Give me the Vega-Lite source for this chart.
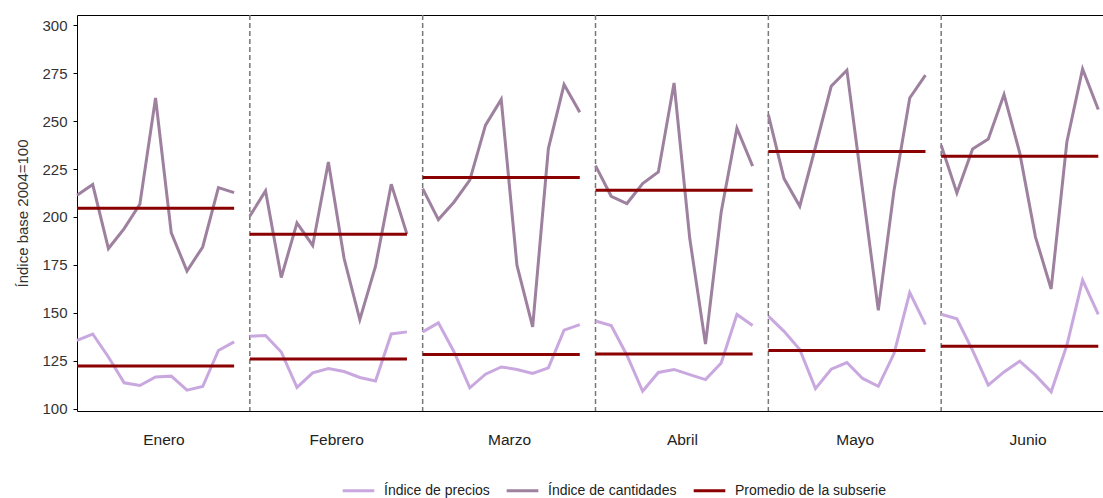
{
  "$schema": "https://vega.github.io/schema/vega-lite/v6.json",
  "width": 1026,
  "height": 396,
  "autosize": {"type": "none"},
  "padding": {"left": 77, "top": 15, "right": 0, "bottom": 87},
  "config": {
    "view": {"stroke": null},
    "font": "Liberation Sans",
    "axis": {"grid": false, "domainColor": "#000", "tickColor": "#000", "labelColor": "#333", "titleColor": "#333", "labelFontSize": 15, "titleFontSize": 15, "titleFontWeight": "normal"}
  },
  "datasets": {
    "sep": [{"t": 11}, {"t": 22}, {"t": 33}, {"t": 44}, {"t": 55}],
    "prom": [
      {"mes": "Enero", "t0": 0, "t1": 10, "valor": 204.5}, {"mes": "Enero", "t0": 0, "t1": 10, "valor": 122.2},
      {"mes": "Febrero", "t0": 11, "t1": 21, "valor": 191.0}, {"mes": "Febrero", "t0": 11, "t1": 21, "valor": 125.9},
      {"mes": "Marzo", "t0": 22, "t1": 32, "valor": 220.6}, {"mes": "Marzo", "t0": 22, "t1": 32, "valor": 128.2},
      {"mes": "Abril", "t0": 33, "t1": 43, "valor": 213.9}, {"mes": "Abril", "t0": 33, "t1": 43, "valor": 128.5},
      {"mes": "Mayo", "t0": 44, "t1": 54, "valor": 234.1}, {"mes": "Mayo", "t0": 44, "t1": 54, "valor": 130.3},
      {"mes": "Junio", "t0": 55, "t1": 65, "valor": 231.7}, {"mes": "Junio", "t0": 55, "t1": 65, "valor": 132.5}
    ],
    "series": [
      {"mes": "Enero", "t": 0, "serie": "Índice de precios", "valor": 135.6},
      {"mes": "Enero", "t": 1, "serie": "Índice de precios", "valor": 138.9},
      {"mes": "Enero", "t": 2, "serie": "Índice de precios", "valor": 126.9},
      {"mes": "Enero", "t": 3, "serie": "Índice de precios", "valor": 113.4},
      {"mes": "Enero", "t": 4, "serie": "Índice de precios", "valor": 112.0},
      {"mes": "Enero", "t": 5, "serie": "Índice de precios", "valor": 116.5},
      {"mes": "Enero", "t": 6, "serie": "Índice de precios", "valor": 116.9},
      {"mes": "Enero", "t": 7, "serie": "Índice de precios", "valor": 109.6},
      {"mes": "Enero", "t": 8, "serie": "Índice de precios", "valor": 111.5},
      {"mes": "Enero", "t": 9, "serie": "Índice de precios", "valor": 130.3},
      {"mes": "Enero", "t": 10, "serie": "Índice de precios", "valor": 134.8},
      {"mes": "Febrero", "t": 11, "serie": "Índice de precios", "valor": 137.7},
      {"mes": "Febrero", "t": 12, "serie": "Índice de precios", "valor": 138.1},
      {"mes": "Febrero", "t": 13, "serie": "Índice de precios", "valor": 129.5},
      {"mes": "Febrero", "t": 14, "serie": "Índice de precios", "valor": 111.0},
      {"mes": "Febrero", "t": 15, "serie": "Índice de precios", "valor": 118.6},
      {"mes": "Febrero", "t": 16, "serie": "Índice de precios", "valor": 120.9},
      {"mes": "Febrero", "t": 17, "serie": "Índice de precios", "valor": 119.3},
      {"mes": "Febrero", "t": 18, "serie": "Índice de precios", "valor": 116.2},
      {"mes": "Febrero", "t": 19, "serie": "Índice de precios", "valor": 114.4},
      {"mes": "Febrero", "t": 20, "serie": "Índice de precios", "valor": 138.9},
      {"mes": "Febrero", "t": 21, "serie": "Índice de precios", "valor": 140.0},
      {"mes": "Marzo", "t": 22, "serie": "Índice de precios", "valor": 140.0},
      {"mes": "Marzo", "t": 23, "serie": "Índice de precios", "valor": 144.7},
      {"mes": "Marzo", "t": 24, "serie": "Índice de precios", "valor": 129.5},
      {"mes": "Marzo", "t": 25, "serie": "Índice de precios", "valor": 110.8},
      {"mes": "Marzo", "t": 26, "serie": "Índice de precios", "valor": 117.9},
      {"mes": "Marzo", "t": 27, "serie": "Índice de precios", "valor": 121.7},
      {"mes": "Marzo", "t": 28, "serie": "Índice de precios", "valor": 120.4},
      {"mes": "Marzo", "t": 29, "serie": "Índice de precios", "valor": 118.3},
      {"mes": "Marzo", "t": 30, "serie": "Índice de precios", "valor": 121.2},
      {"mes": "Marzo", "t": 31, "serie": "Índice de precios", "valor": 140.9},
      {"mes": "Marzo", "t": 32, "serie": "Índice de precios", "valor": 143.8},
      {"mes": "Abril", "t": 33, "serie": "Índice de precios", "valor": 145.7},
      {"mes": "Abril", "t": 34, "serie": "Índice de precios", "valor": 143.3},
      {"mes": "Abril", "t": 35, "serie": "Índice de precios", "valor": 127.8},
      {"mes": "Abril", "t": 36, "serie": "Índice de precios", "valor": 109.0},
      {"mes": "Abril", "t": 37, "serie": "Índice de precios", "valor": 118.8},
      {"mes": "Abril", "t": 38, "serie": "Índice de precios", "valor": 120.4},
      {"mes": "Abril", "t": 39, "serie": "Índice de precios", "valor": 117.7},
      {"mes": "Abril", "t": 40, "serie": "Índice de precios", "valor": 115.1},
      {"mes": "Abril", "t": 41, "serie": "Índice de precios", "valor": 123.8},
      {"mes": "Abril", "t": 42, "serie": "Índice de precios", "valor": 149.1},
      {"mes": "Abril", "t": 43, "serie": "Índice de precios", "valor": 143.3},
      {"mes": "Mayo", "t": 44, "serie": "Índice de precios", "valor": 148.2},
      {"mes": "Mayo", "t": 45, "serie": "Índice de precios", "valor": 140.3},
      {"mes": "Mayo", "t": 46, "serie": "Índice de precios", "valor": 130.8},
      {"mes": "Mayo", "t": 47, "serie": "Índice de precios", "valor": 110.4},
      {"mes": "Mayo", "t": 48, "serie": "Índice de precios", "valor": 120.5},
      {"mes": "Mayo", "t": 49, "serie": "Índice de precios", "valor": 124.0},
      {"mes": "Mayo", "t": 50, "serie": "Índice de precios", "valor": 115.7},
      {"mes": "Mayo", "t": 51, "serie": "Índice de precios", "valor": 111.6},
      {"mes": "Mayo", "t": 52, "serie": "Índice de precios", "valor": 128.7},
      {"mes": "Mayo", "t": 53, "serie": "Índice de precios", "valor": 160.5},
      {"mes": "Mayo", "t": 54, "serie": "Índice de precios", "valor": 143.8},
      {"mes": "Junio", "t": 55, "serie": "Índice de precios", "valor": 149.2},
      {"mes": "Junio", "t": 56, "serie": "Índice de precios", "valor": 146.8},
      {"mes": "Junio", "t": 57, "serie": "Índice de precios", "valor": 130.4},
      {"mes": "Junio", "t": 58, "serie": "Índice de precios", "valor": 112.2},
      {"mes": "Junio", "t": 59, "serie": "Índice de precios", "valor": 119.1},
      {"mes": "Junio", "t": 60, "serie": "Índice de precios", "valor": 124.7},
      {"mes": "Junio", "t": 61, "serie": "Índice de precios", "valor": 117.4},
      {"mes": "Junio", "t": 62, "serie": "Índice de precios", "valor": 108.7},
      {"mes": "Junio", "t": 63, "serie": "Índice de precios", "valor": 133.0},
      {"mes": "Junio", "t": 64, "serie": "Índice de precios", "valor": 167.0},
      {"mes": "Junio", "t": 65, "serie": "Índice de precios", "valor": 149.1},
      {"mes": "Enero", "t": 0, "serie": "Índice de cantidades", "valor": 211.3},
      {"mes": "Enero", "t": 1, "serie": "Índice de cantidades", "valor": 216.9},
      {"mes": "Enero", "t": 2, "serie": "Índice de cantidades", "valor": 183.5},
      {"mes": "Enero", "t": 3, "serie": "Índice de cantidades", "valor": 193.9},
      {"mes": "Enero", "t": 4, "serie": "Índice de cantidades", "valor": 206.6},
      {"mes": "Enero", "t": 5, "serie": "Índice de cantidades", "valor": 262.1},
      {"mes": "Enero", "t": 6, "serie": "Índice de cantidades", "valor": 191.7},
      {"mes": "Enero", "t": 7, "serie": "Índice de cantidades", "valor": 171.8},
      {"mes": "Enero", "t": 8, "serie": "Índice de cantidades", "valor": 184.3},
      {"mes": "Enero", "t": 9, "serie": "Índice de cantidades", "valor": 215.3},
      {"mes": "Enero", "t": 10, "serie": "Índice de cantidades", "valor": 212.7},
      {"mes": "Febrero", "t": 11, "serie": "Índice de cantidades", "valor": 200.4},
      {"mes": "Febrero", "t": 12, "serie": "Índice de cantidades", "valor": 213.6},
      {"mes": "Febrero", "t": 13, "serie": "Índice de cantidades", "valor": 168.4},
      {"mes": "Febrero", "t": 14, "serie": "Índice de cantidades", "valor": 196.9},
      {"mes": "Febrero", "t": 15, "serie": "Índice de cantidades", "valor": 185.1},
      {"mes": "Febrero", "t": 16, "serie": "Índice de cantidades", "valor": 228.7},
      {"mes": "Febrero", "t": 17, "serie": "Índice de cantidades", "valor": 178.3},
      {"mes": "Febrero", "t": 18, "serie": "Índice de cantidades", "valor": 146.4},
      {"mes": "Febrero", "t": 19, "serie": "Índice de cantidades", "valor": 174.3},
      {"mes": "Febrero", "t": 20, "serie": "Índice de cantidades", "valor": 217.1},
      {"mes": "Febrero", "t": 21, "serie": "Índice de cantidades", "valor": 191.0},
      {"mes": "Marzo", "t": 22, "serie": "Índice de cantidades", "valor": 214.8},
      {"mes": "Marzo", "t": 23, "serie": "Índice de cantidades", "valor": 198.6},
      {"mes": "Marzo", "t": 24, "serie": "Índice de cantidades", "valor": 207.8},
      {"mes": "Marzo", "t": 25, "serie": "Índice de cantidades", "valor": 219.2},
      {"mes": "Marzo", "t": 26, "serie": "Índice de cantidades", "valor": 247.9},
      {"mes": "Marzo", "t": 27, "serie": "Índice de cantidades", "valor": 261.3},
      {"mes": "Marzo", "t": 28, "serie": "Índice de cantidades", "valor": 174.8},
      {"mes": "Marzo", "t": 29, "serie": "Índice de cantidades", "valor": 142.6},
      {"mes": "Marzo", "t": 30, "serie": "Índice de cantidades", "valor": 235.7},
      {"mes": "Marzo", "t": 31, "serie": "Índice de cantidades", "valor": 269.1},
      {"mes": "Marzo", "t": 32, "serie": "Índice de cantidades", "valor": 254.6},
      {"mes": "Abril", "t": 33, "serie": "Índice de cantidades", "valor": 226.8},
      {"mes": "Abril", "t": 34, "serie": "Índice de cantidades", "valor": 210.8},
      {"mes": "Abril", "t": 35, "serie": "Índice de cantidades", "valor": 207.0},
      {"mes": "Abril", "t": 36, "serie": "Índice de cantidades", "valor": 217.4},
      {"mes": "Abril", "t": 37, "serie": "Índice de cantidades", "valor": 223.5},
      {"mes": "Abril", "t": 38, "serie": "Índice de cantidades", "valor": 269.9},
      {"mes": "Abril", "t": 39, "serie": "Índice de cantidades", "valor": 188.7},
      {"mes": "Abril", "t": 40, "serie": "Índice de cantidades", "valor": 133.6},
      {"mes": "Abril", "t": 41, "serie": "Índice de cantidades", "valor": 202.6},
      {"mes": "Abril", "t": 42, "serie": "Índice de cantidades", "valor": 246.3},
      {"mes": "Abril", "t": 43, "serie": "Índice de cantidades", "valor": 226.5},
      {"mes": "Mayo", "t": 44, "serie": "Índice de cantidades", "valor": 253.4},
      {"mes": "Mayo", "t": 45, "serie": "Índice de cantidades", "valor": 220.0},
      {"mes": "Mayo", "t": 46, "serie": "Índice de cantidades", "valor": 205.6},
      {"mes": "Mayo", "t": 47, "serie": "Índice de cantidades", "valor": 236.5},
      {"mes": "Mayo", "t": 48, "serie": "Índice de cantidades", "valor": 268.2},
      {"mes": "Mayo", "t": 49, "serie": "Índice de cantidades", "valor": 276.6},
      {"mes": "Mayo", "t": 50, "serie": "Índice de cantidades", "valor": 213.9},
      {"mes": "Mayo", "t": 51, "serie": "Índice de cantidades", "valor": 151.3},
      {"mes": "Mayo", "t": 52, "serie": "Índice de cantidades", "valor": 213.9},
      {"mes": "Mayo", "t": 53, "serie": "Índice de cantidades", "valor": 262.1},
      {"mes": "Mayo", "t": 54, "serie": "Índice de cantidades", "valor": 274.0},
      {"mes": "Junio", "t": 55, "serie": "Índice de cantidades", "valor": 237.4},
      {"mes": "Junio", "t": 56, "serie": "Índice de cantidades", "valor": 212.5},
      {"mes": "Junio", "t": 57, "serie": "Índice de cantidades", "valor": 235.5},
      {"mes": "Junio", "t": 58, "serie": "Índice de cantidades", "valor": 240.7},
      {"mes": "Junio", "t": 59, "serie": "Índice de cantidades", "valor": 263.9},
      {"mes": "Junio", "t": 60, "serie": "Índice de cantidades", "valor": 233.4},
      {"mes": "Junio", "t": 61, "serie": "Índice de cantidades", "valor": 189.6},
      {"mes": "Junio", "t": 62, "serie": "Índice de cantidades", "valor": 162.4},
      {"mes": "Junio", "t": 63, "serie": "Índice de cantidades", "valor": 239.1},
      {"mes": "Junio", "t": 64, "serie": "Índice de cantidades", "valor": 277.2},
      {"mes": "Junio", "t": 65, "serie": "Índice de cantidades", "valor": 256.1}
    ]
  },
  "layer": [
    {
      "data": {"name": "sep"},
      "mark": {"type": "rule", "color": "#777", "strokeDash": [5, 3], "strokeWidth": 1.5},
      "encoding": {
        "x": {
          "field": "t", "type": "quantitative",
          "scale": {"domain": [0, 65.3], "nice": false, "zero": false},
          "axis": {"orient": "bottom", "values": [5.5, 16.5, 27.5, 38.5, 49.5, 60.5], "labelExpr": "['Enero','Febrero','Marzo','Abril','Mayo','Junio'][floor(datum.value/11)]", "ticks": false, "tickSize": 0, "labelPadding": 21, "labelFontSize": 15.5, "labelColor": "#222", "title": null, "domainWidth": 1}
        }
      }
    },
    {
      "data": {"name": "series"},
      "mark": {"type": "line", "strokeWidth": 3},
      "encoding": {
        "x": {"field": "t", "type": "quantitative", "axis": null},
        "y": {
          "field": "valor", "type": "quantitative",
          "scale": {"domain": [98.7, 305.4], "nice": false, "zero": false},
          "axis": {"values": [100, 125, 150, 175, 200, 225, 250, 275, 300], "tickSize": 4, "labelPadding": 6, "title": "Índice base 2004=100", "titlePadding": 11}
        },
        "color": {
          "field": "serie", "type": "nominal",
          "scale": {"domain": ["Índice de precios", "Índice de cantidades", "Promedio de la subserie"], "range": ["#c9a8df", "#9e809f", "#8b0000"]},
          "legend": {"orient": "none", "legendX": 264, "legendY": 458, "direction": "horizontal", "title": null, "symbolType": "stroke", "symbolSize": 1000, "symbolStrokeWidth": 3, "labelFontSize": 14, "labelLimit": 400, "labelColor": "#222", "columnPadding": 10, "labelOffset": 8}
        },
        "detail": {"field": "mes"}
      }
    },
    {
      "data": {"name": "prom"},
      "mark": {"type": "rule", "strokeWidth": 3},
      "encoding": {
        "x": {"field": "t0", "type": "quantitative", "axis": {"orient": "top", "labels": false, "ticks": false, "title": null, "domainWidth": 1}},
        "x2": {"field": "t1"},
        "y": {"field": "valor", "type": "quantitative"},
        "color": {"datum": "Promedio de la subserie", "type": "nominal"}
      }
    }
  ],
  "resolve": {"axis": {"x": "independent"}}
}
